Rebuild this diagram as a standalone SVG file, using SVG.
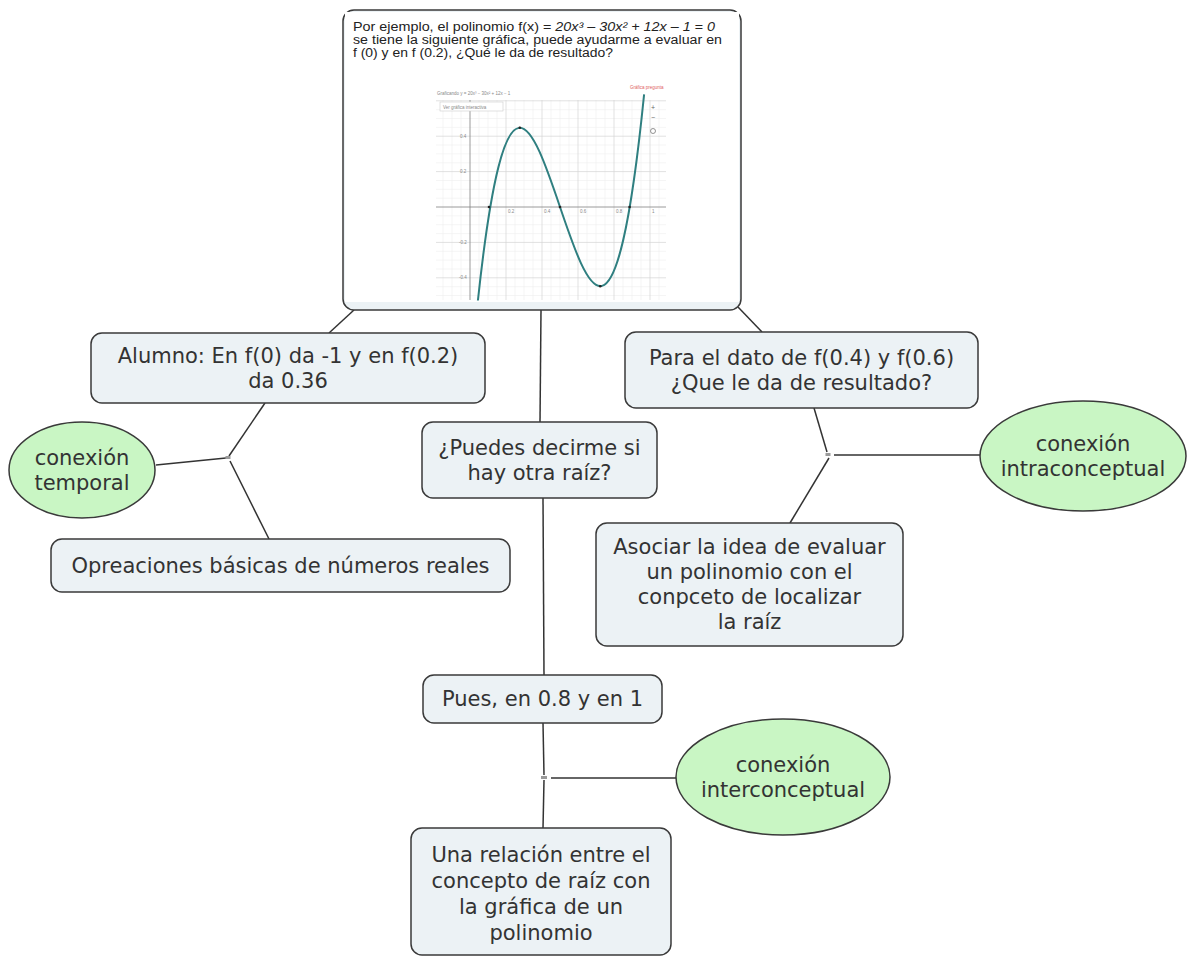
<svg xmlns="http://www.w3.org/2000/svg" width="1187" height="956" viewBox="0 0 1187 956">
<style>
.box{fill:#ECF2F5;stroke:#3a3a3a;stroke-width:1.5}
.ell{fill:#C9F6C4;stroke:#3a3a3a;stroke-width:1.5}
.t{font-family:"DejaVu Sans",Verdana,sans-serif;font-size:21px;fill:#333;text-anchor:middle}
.c{stroke:#333;stroke-width:1.5;fill:none}
.j{fill:#9a9a9a}
.top{font-family:"Liberation Sans",Arial,sans-serif;font-size:12.5px;fill:#222}
.g1{stroke:#eeeeee;stroke-width:0.6;fill:none}
.g2{stroke:#d4d4d4;stroke-width:0.7;fill:none}
.tiny{font-family:"Liberation Sans",Arial,sans-serif;font-size:4.5px;fill:#888}
</style>
<rect width="1187" height="956" fill="#fff"/>
<g id="connectors">
<path class="c" d="M354,310 L329,333"/>
<path class="c" d="M738,307 L762,332"/>
<path class="c" d="M541,310 L540,422"/>
<path class="c" d="M543,498 L544,675"/>
<path class="c" d="M265,403 L229,456"/>
<path class="c" d="M226,458 L156,465"/>
<path class="c" d="M230,461 L269,539"/>
<path class="c" d="M814,408 L827,452"/>
<path class="c" d="M829,458 L790,523"/>
<path class="c" d="M834,455 L981,455"/>
<path class="c" d="M543,723 L544,775"/>
<path class="c" d="M544,780 L543,828"/>
<path class="c" d="M551,778 L676,778"/>
<rect class="j" x="225.5" y="456" width="5" height="3"/>
<rect class="j" x="825.5" y="453" width="5" height="3"/>
<rect class="j" x="541" y="776" width="6" height="3"/>
</g>
<g id="node-pregunta">
<rect class="box" x="343" y="10" width="398" height="300" rx="11"/>
<rect x="345" y="12" width="394" height="290" fill="#fff"/>
<text class="top" x="353" y="30.5" textLength="362" lengthAdjust="spacingAndGlyphs">Por ejemplo, el polinomio f(x) = <tspan font-style="italic">20x³ – 30x² + 12x – 1 = 0</tspan></text>
<text class="top" x="353" y="43.5" textLength="369" lengthAdjust="spacingAndGlyphs">se tiene la siguiente gráfica, puede ayudarme a evaluar en</text>
<text class="top" x="353" y="56.5" textLength="260" lengthAdjust="spacingAndGlyphs">f (0) y en f (0.2), ¿Qué le da de resultado?</text>
<g id="graph">
<path class="g1" d="M443,100V300M452,100V300M461,100V300M479,100V300M488,100V300M497,100V300M515,100V300M524,100V300M533,100V300M551,100V300M560,100V300M569,100V300M587,100V300M596,100V300M605,100V300M623,100V300M632,100V300M641,100V300M659,100V300M436,198.2H666M436,189.3H666M436,180.5H666M436,162.8H666M436,153.9H666M436,145H666M436,127.4H666M436,118.5H666M436,109.7H666M436,215.9H666M436,224.7H666M436,233.6H666M436,251.3H666M436,260.1H666M436,269H666M436,286.7H666M436,295.5H666"/>
<path class="g2" d="M506,100V300M542,100V300M578,100V300M614,100V300M650,100V300M436,100.8H666M436,136.2H666M436,171.6H666M436,242.4H666M436,277.8H666"/>
<path d="M436,207H666M470,100V300" stroke="#808080" stroke-width="0.8" fill="none"/>
<text class="tiny" x="508" y="213">0.2</text>
<text class="tiny" x="544" y="213">0.4</text>
<text class="tiny" x="580" y="213">0.6</text>
<text class="tiny" x="616" y="213">0.8</text>
<text class="tiny" x="652" y="213">1</text>
<text class="tiny" x="460" y="138">0.4</text>
<text class="tiny" x="460" y="173">0.2</text>
<text class="tiny" x="459" y="244">-0.2</text>
<text class="tiny" x="459" y="279">-0.4</text>
<text class="tiny" x="437" y="95">Graficando y = 20x³ − 30x² + 12x − 1</text>
<rect x="440" y="102" width="63" height="9" fill="#fff" stroke="#ccc" stroke-width="0.6"/>
<text class="tiny" x="443" y="108.5">Ver gráfica interactiva</text>
<text class="tiny" x="630" y="89" style="fill:#e06060">Gráfica pregunta</text>
<text x="653" y="110" font-family="Liberation Sans,Arial,sans-serif" font-size="7" fill="#666" text-anchor="middle">+</text>
<text x="653" y="120" font-family="Liberation Sans,Arial,sans-serif" font-size="7" fill="#666" text-anchor="middle">−</text>
<circle cx="653" cy="131" r="2.5" fill="none" stroke="#777" stroke-width="0.8"/>
<path d="M477.9,300.5 C533.3,-215.5 588.7,643.6 644.1,94.4" fill="none" stroke="#2f7f80" stroke-width="2"/>
<g fill="#222">
<circle cx="489" cy="207" r="1.3"/>
<circle cx="560" cy="207" r="1.3"/>
<circle cx="629.6" cy="207" r="1.3"/>
<circle cx="519.8" cy="127.8" r="1.3"/>
<circle cx="600.2" cy="286.2" r="1.3"/>
</g>
</g>
</g>
<g id="node-alumno">
<rect class="box" x="91" y="333" width="394" height="70" rx="11"/>
<text class="t" x="288" y="363">Alumno: En f(0) da -1 y en f(0.2)</text>
<text class="t" x="288" y="388">da 0.36</text>
</g>
<g id="node-para">
<rect class="box" x="625" y="332" width="353" height="76" rx="11"/>
<text class="t" x="801.5" y="365">Para el dato de f(0.4) y f(0.6)</text>
<text class="t" x="801.5" y="390">¿Que le da de resultado?</text>
</g>
<g id="node-puedes">
<rect class="box" x="422" y="422" width="235" height="76" rx="11"/>
<text class="t" x="539.5" y="455">¿Puedes decirme si</text>
<text class="t" x="539.5" y="480">hay otra raíz?</text>
</g>
<g id="node-temporal">
<ellipse class="ell" cx="82" cy="470" rx="73" ry="48"/>
<text class="t" x="82" y="465">conexión</text>
<text class="t" x="82" y="490">temporal</text>
</g>
<g id="node-opreaciones">
<rect class="box" x="51" y="539" width="459" height="53" rx="11"/>
<text class="t" x="280.5" y="573">Opreaciones básicas de números reales</text>
</g>
<g id="node-intra">
<ellipse class="ell" cx="1083" cy="456" rx="103" ry="55"/>
<text class="t" x="1083" y="451">conexión</text>
<text class="t" x="1083" y="476">intraconceptual</text>
</g>
<g id="node-asociar">
<rect class="box" x="596" y="523" width="307" height="123" rx="11"/>
<text class="t" x="749.5" y="554">Asociar la idea de evaluar</text>
<text class="t" x="749.5" y="579">un polinomio con el</text>
<text class="t" x="749.5" y="604">conpceto de localizar</text>
<text class="t" x="749.5" y="629">la raíz</text>
</g>
<g id="node-pues">
<rect class="box" x="423" y="675" width="239" height="48" rx="11"/>
<text class="t" x="542.5" y="706">Pues, en 0.8 y en 1</text>
</g>
<g id="node-inter">
<ellipse class="ell" cx="783" cy="777" rx="107" ry="58"/>
<text class="t" x="783" y="772">conexión</text>
<text class="t" x="783" y="797">interconceptual</text>
</g>
<g id="node-una">
<rect class="box" x="411" y="828" width="260" height="127" rx="11"/>
<text class="t" x="541" y="862">Una relación entre el</text>
<text class="t" x="541" y="888">concepto de raíz con</text>
<text class="t" x="541" y="914">la gráfica de un</text>
<text class="t" x="541" y="940">polinomio</text>
</g>
</svg>
